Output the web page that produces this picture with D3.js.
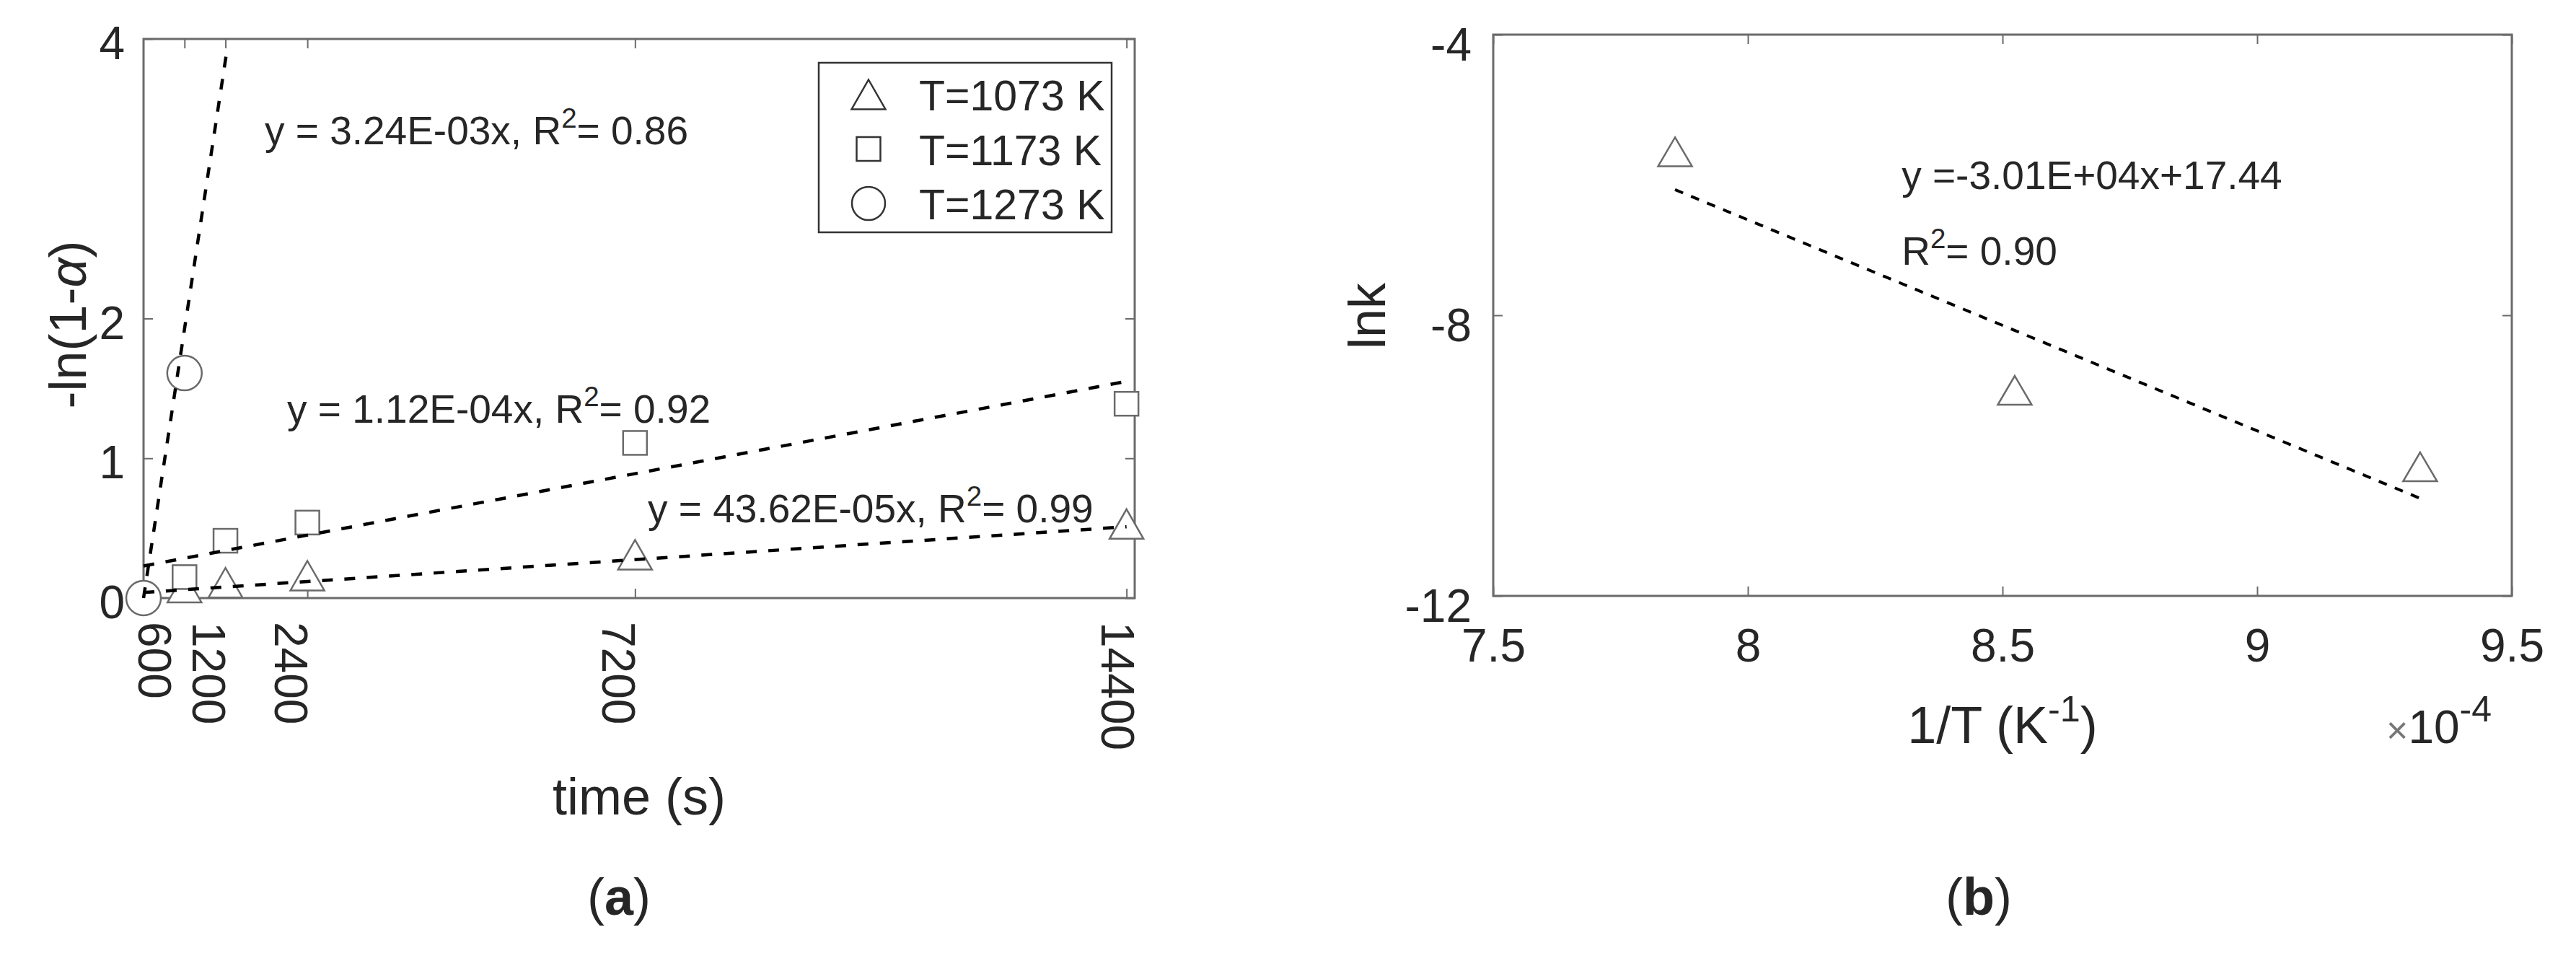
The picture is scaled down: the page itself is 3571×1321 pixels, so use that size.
<!DOCTYPE html>
<html>
<head>
<meta charset="utf-8">
<script src="https://cdn.jsdelivr.net/npm/d3@7"></script>
<style>
  body { margin: 0; background: #fff; }
  svg { display: block; }
  text { font-family: "Liberation Sans", Arial, Helvetica, sans-serif; fill: #262626; }
</style>
</head>
<body>
<svg id="chart" width="3571" height="1321"></svg>
<script>
// ---- panel (a): -ln(1-alpha) vs time ----
var timeTicks = [600, 1200, 2400, 7200, 14400];
var alphaTicks = [0, 1, 2, 4];

var time1073 = [600, 1200, 2400, 7200, 14400];
var val1073 = [0.075, 0.11, 0.16, 0.31, 0.53];
var time1173 = [600, 1200, 2400, 7200, 14400];
var val1173 = [0.15, 0.41, 0.54, 1.11, 1.39];
var time1273 = [0, 600];
var val1273 = [0, 1.61];

// fitted lines as drawn (end points)
var fit1073 = [[0, 0.04], [14400, 0.51]];
var fit1173 = [[0, 0.23], [14400, 1.55]];
var fit1273 = [[0, 0], [1225, 3.93]];

var legendLabels = ["T=1073 K", "T=1173 K", "T=1273 K"];
var fitTextA = [
  ["y = 3.24E-03x, R", "= 0.86"],
  ["y = 1.12E-04x, R", "= 0.92"],
  ["y = 43.62E-05x, R", "= 0.99"]
];

// ---- panel (b): lnk vs 1/T ----
var invTTicks = [7.5, 8, 8.5, 9, 9.5];
var lnkTicks = [-4, -8, -12];
var invT = [7.857, 8.524, 9.32];
var lnk = [-5.67, -9.07, -10.16];
var fitArrhenius = [[7.857, -6.21], [9.32, -10.61]];
var fitTextB = ["y =-3.01E+04x+17.44", "R", "= 0.90"];


var svg = d3.select("#chart");
svg.append("rect").attr("width", 3571).attr("height", 1321).attr("fill", "#fff");

var AXIS_COLOR = "#6b6b6b";
var MARK_COLOR = "#6a6a6a";
var TICK_FONT = 64;

// matlab style labels: plain hyphen for negatives
function plainNum(d) { return String(d); }

function trianglePath(w, h) {
  return "M0," + (-h / 2) + "L" + (w / 2) + "," + (h / 2) + "L" + (-w / 2) + "," + (h / 2) + "Z";
}

function styleAxis(g) {
  g.select(".domain").remove();
  g.selectAll(".tick line").attr("stroke", AXIS_COLOR).attr("stroke-width", 2);
  g.selectAll(".tick text")
    .attr("font-size", TICK_FONT)
    .attr("fill", "#262626")
    .attr("font-family", '"Liberation Sans", Arial, sans-serif');
}

function drawBox(g, x, y) {
  var x0 = x.range()[0], x1 = x.range()[1];
  var y0 = y.range()[0], y1 = y.range()[1];
  g.append("rect")
    .attr("x", x0).attr("y", y1)
    .attr("width", x1 - x0).attr("height", y0 - y1)
    .attr("fill", "none")
    .attr("stroke", AXIS_COLOR)
    .attr("stroke-width", 3);
}

function superText(g, x, y, size, pre, sup, post, supScale) {
  var t = g.append("text").attr("x", x).attr("y", y).attr("font-size", size);
  t.append("tspan").text(pre);
  t.append("tspan").attr("dy", -0.42 * size).attr("font-size", size * (supScale || 0.7)).text(sup);
  t.append("tspan").attr("dy", 0.42 * size).text(post);
  return t;
}

function dashedLine(g, pts, x, y, dash, width) {
  g.append("path")
    .datum(pts)
    .attr("d", d3.line().x(function(d) { return x(d[0]); }).y(function(d) { return y(d[1]); }))
    .attr("fill", "none")
    .attr("stroke", "#000")
    .attr("stroke-width", width)
    .attr("stroke-dasharray", dash);
}

// =================== panel (a) ===================
var xA = d3.scaleLinear().domain([0, 14520]).range([199, 1573]);
var yA = d3.scaleLinear().domain([0, 4]).range([829, 54]);
var gA = svg.append("g");

drawBox(gA, xA, yA);

var rotatedNudge = { 600: -18, 14400: 11 };

gA.append("g")
  .attr("transform", "translate(0," + yA(0) + ")")
  .call(d3.axisBottom(xA).tickValues(timeTicks).tickSizeInner(-13).tickSizeOuter(0).tickFormat(plainNum))
  .call(styleAxis)
  .selectAll(".tick text")
  .attr("x", 0).attr("y", 0).attr("dy", "0.716em")
  .attr("text-anchor", "start")
  .attr("transform", function(d) {
    return "translate(" + (rotatedNudge[d] || 0) + ",33) rotate(90)";
  });

gA.append("g")
  .attr("transform", "translate(0," + yA(4) + ")")
  .call(d3.axisTop(xA).tickValues(timeTicks).tickSizeInner(-13).tickSizeOuter(0).tickFormat(""))
  .call(styleAxis);

gA.append("g")
  .attr("transform", "translate(" + xA(0) + ",0)")
  .call(d3.axisLeft(yA).tickValues(alphaTicks).tickSizeInner(-13).tickSizeOuter(0).tickPadding(26).tickFormat(plainNum))
  .call(styleAxis)
  .selectAll(".tick text").attr("dy", "0.43em");

gA.append("g")
  .attr("transform", "translate(" + xA.range()[1] + ",0)")
  .call(d3.axisRight(yA).tickValues(alphaTicks).tickSizeInner(-13).tickSizeOuter(0).tickFormat(""))
  .call(styleAxis);

// markers
var tri = trianglePath(47, 41);
gA.selectAll(".m1073").data(d3.zip(time1073, val1073)).enter()
  .append("path").attr("class", "m1073")
  .attr("d", tri)
  .attr("transform", function(d) { return "translate(" + xA(d[0]) + "," + yA(d[1]) + ")"; })
  .attr("fill", "#fff").attr("stroke", MARK_COLOR).attr("stroke-width", 2.5);

gA.selectAll(".m1173").data(d3.zip(time1173, val1173)).enter()
  .append("rect").attr("class", "m1173")
  .attr("x", function(d) { return xA(d[0]) - 16.5; })
  .attr("y", function(d) { return yA(d[1]) - 16.5; })
  .attr("width", 33).attr("height", 33)
  .attr("fill", "#fff").attr("stroke", MARK_COLOR).attr("stroke-width", 2.5);

gA.selectAll(".m1273").data(d3.zip(time1273, val1273)).enter()
  .append("circle").attr("class", "m1273")
  .attr("cx", function(d) { return xA(d[0]); })
  .attr("cy", function(d) { return yA(d[1]); })
  .attr("r", 24)
  .attr("fill", "#fff").attr("stroke", MARK_COLOR).attr("stroke-width", 2.5);

// fit lines
[fit1073, fit1173, fit1273].forEach(function(f) {
  dashedLine(gA, f, xA, yA, "15 16", 4.5);
});

// equations
var eqAnchorsA = [[1775, 3.246], [2103, 1.254], [7387, 0.542]];
fitTextA.forEach(function(t, i) {
  superText(gA, xA(eqAnchorsA[i][0]), yA(eqAnchorsA[i][1]), 55, t[0], "2", t[1]);
});

// legend
var legend = gA.append("g");
legend.append("rect")
  .attr("x", 1135).attr("y", 87).attr("width", 406).attr("height", 235)
  .attr("fill", "#fff").attr("stroke", "#333").attr("stroke-width", 2.5);
var legendRow = d3.scaleLinear().domain([0, 2]).range([153, 304]);
legendLabels.forEach(function(lbl, i) {
  var cy = legendRow(i) - 22;
  if (i === 0) {
    legend.append("path").attr("d", tri)
      .attr("transform", "translate(1204," + cy + ")")
      .attr("fill", "none").attr("stroke", "#333").attr("stroke-width", 2.5);
  } else if (i === 1) {
    legend.append("rect").attr("x", 1204 - 16.5).attr("y", cy - 16.5)
      .attr("width", 33).attr("height", 33)
      .attr("fill", "none").attr("stroke", "#333").attr("stroke-width", 2.5);
  } else {
    legend.append("circle").attr("cx", 1204).attr("cy", cy).attr("r", 23)
      .attr("fill", "none").attr("stroke", "#333").attr("stroke-width", 2.5);
  }
  legend.append("text").attr("x", 1274).attr("y", legendRow(i))
    .attr("font-size", 59).text(lbl);
});

// axis labels
gA.append("text")
  .attr("transform", "translate(119," + 450 + ") rotate(-90)")
  .attr("text-anchor", "middle").attr("font-size", 72)
  .call(function(t) {
    t.append("tspan").text("-ln(1-");
    t.append("tspan").attr("font-style", "italic").text("\u03b1");
    t.append("tspan").text(")");
  });

gA.append("text")
  .attr("x", (xA.range()[0] + xA.range()[1]) / 2).attr("y", 1129)
  .attr("text-anchor", "middle").attr("font-size", 72)
  .text("time (s)");

// =================== panel (b) ===================
var xB = d3.scaleLinear().domain([7.5, 9.5]).range([2070, 3482]);
var yB = d3.scaleLinear().domain([-12, -4]).range([826, 48]);
var gB = svg.append("g");

drawBox(gB, xB, yB);

gB.append("g")
  .attr("transform", "translate(0," + yB(-12) + ")")
  .call(d3.axisBottom(xB).tickValues(invTTicks).tickSizeInner(-13).tickSizeOuter(0).tickPadding(46).tickFormat(plainNum))
  .call(styleAxis);

gB.append("g")
  .attr("transform", "translate(0," + yB(-4) + ")")
  .call(d3.axisTop(xB).tickValues(invTTicks).tickSizeInner(-13).tickSizeOuter(0).tickFormat(""))
  .call(styleAxis);

gB.append("g")
  .attr("transform", "translate(" + xB(7.5) + ",0)")
  .call(d3.axisLeft(yB).tickValues(lnkTicks).tickSizeInner(-13).tickSizeOuter(0).tickPadding(30).tickFormat(plainNum))
  .call(styleAxis)
  .selectAll(".tick text").attr("dy", "0.56em");

gB.append("g")
  .attr("transform", "translate(" + xB(9.5) + ",0)")
  .call(d3.axisRight(yB).tickValues(lnkTicks).tickSizeInner(-13).tickSizeOuter(0).tickFormat(""))
  .call(styleAxis);

gB.selectAll(".mk").data(d3.zip(invT, lnk)).enter()
  .append("path").attr("class", "mk")
  .attr("d", trianglePath(47, 40))
  .attr("transform", function(d) { return "translate(" + xB(d[0]) + "," + yB(d[1]) + ")"; })
  .attr("fill", "#fff").attr("stroke", MARK_COLOR).attr("stroke-width", 2.5);

dashedLine(gB, fitArrhenius, xB, yB, "12 12", 4);

gB.append("text").attr("x", xB(8.302)).attr("y", yB(-6.20))
  .attr("font-size", 55).text(fitTextB[0]);
superText(gB, xB(8.302), yB(-7.28), 55, fitTextB[1], "2", fitTextB[2]);

gB.append("text")
  .attr("transform", "translate(1920,438) rotate(-90)")
  .attr("text-anchor", "middle").attr("font-size", 72)
  .text("lnk");

superText(gB, (xB.range()[0] + xB.range()[1]) / 2, 1030, 72, "1/T (K", "-1", ")")
  .attr("text-anchor", "middle");

var mult = gB.append("text").attr("x", 3308).attr("y", 1030).attr("font-size", 64);
mult.append("tspan").attr("fill", "#777").attr("font-size", 52).text("\u00d7");
mult.append("tspan").text("10");
mult.append("tspan").attr("dy", -30).attr("font-size", 50).text("-4");

// panel captions
function caption(x, letter) {
  var t = svg.append("text").attr("x", x).attr("y", 1268)
    .attr("text-anchor", "middle").attr("font-size", 72)
    .attr("font-family", '"Liberation Serif", "Times New Roman", serif')
    .attr("fill", "#000");
  t.append("tspan").text("(");
  t.append("tspan").attr("font-weight", "bold").text(letter);
  t.append("tspan").text(")");
}
caption(858, "a");
caption(2743, "b");
</script>
</body>
</html>
